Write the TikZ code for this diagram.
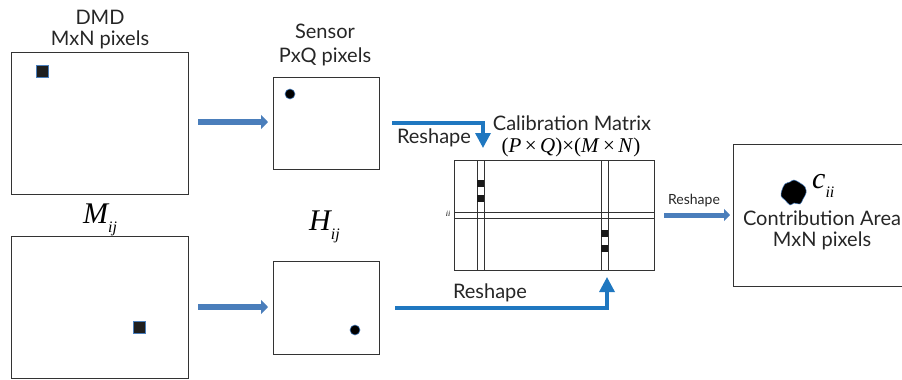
\documentclass[tikz,border=0pt]{standalone}
\usepackage{fontspec}
\setmainfont{Lato}
\newfontfamily\timesit{Liberation Serif}[ItalicFont={Liberation Serif Italic}]
\usetikzlibrary{arrows.meta}
\definecolor{steel}{HTML}{4A7EBB}
\definecolor{rblue}{HTML}{1F77C0}
\definecolor{frame}{HTML}{333333}
\begin{document}
\begin{tikzpicture}[x=1pt,y=-1pt,
  boxframe/.style={draw=frame,line width=1pt},
  pixsq/.style={fill=black!88,draw=steel,line width=0.5pt},
  bigarrow/.style={draw=steel,line width=6pt,-{Triangle[length=7pt,width=14pt]}},
  resharrow/.style={draw=rblue,line width=3.3pt,-{Triangle[length=15pt,width=15pt]}},
  lbl/.style={font=\fontsize{20}{22}\selectfont,inner sep=0pt,text=black!85},
  mlbl/.style={font=\fontsize{30}{30}\selectfont\timesit\itshape,inner sep=0pt},
  thin/.style={draw=frame,line width=1pt}]
\useasboundingbox (0,0) rectangle (902,380);
\begin{scope}
\clip (0,0) rectangle (902,380);
% DMD boxes
\node[boxframe,minimum width=177pt,minimum height=142pt,anchor=north west,inner sep=0pt] (dmd1) at (11,52) {};
\node[boxframe,minimum width=177pt,minimum height=142pt,anchor=north west,inner sep=0pt] (dmd2) at (11,236) {};
\node[pixsq,minimum size=12pt,inner sep=0pt,anchor=north west] (p1) at (36,65) {};
\node[pixsq,minimum size=12pt,inner sep=0pt,anchor=north west] (p2) at (133,321) {};
\node[lbl] (dmdt) at (100,17) {DMD};
\node[lbl] (dmdn) at (100,40) {MxN pixels};
\node[mlbl,anchor=base west] (mij) at (83,223) {M\raisebox{-0.3em}{\fontsize{16}{16}\selectfont ij}};
% sensor boxes
\node[boxframe,minimum width=106pt,minimum height=92pt,anchor=north west,inner sep=0pt] (s1) at (273,77) {};
\node[boxframe,minimum width=106pt,minimum height=93pt,anchor=north west,inner sep=0pt] (s2) at (273,261) {};
\fill[black,draw=steel,line width=0.6pt] (290,94) circle (5pt);
\fill[black,draw=steel,line width=0.6pt] (355,330) circle (5pt);
\node[lbl] (sen) at (325,31) {Sensor};
\node[lbl] (senn) at (325,57) {PxQ pixels};
\node[mlbl,anchor=base west] (hij) at (309,230) {H\raisebox{-0.3em}{\fontsize{16}{16}\selectfont ij}};
% arrows DMD -> sensor
\coordinate (a1s) at (198,122);
\coordinate (a1e) at (268,122);
\coordinate (a2s) at (198,307);
\coordinate (a2e) at (268,307);
\draw[bigarrow] (a1s) -- (a1e);
\draw[bigarrow] (a2s) -- (a2e);
% calibration matrix
\node[boxframe,minimum width=200pt,minimum height=110pt,anchor=north west,inner sep=0pt] (cm) at (454,160) {};
\draw[thin] (477,160) -- (477,270) (484,160) -- (484,270);
\draw[thin] (601,160) -- (601,270) (608,160) -- (608,270);
\draw[thin] (454,212) -- (654,212) (454,218) -- (654,218);
\fill[black!90] (477,180) rectangle (484,187);
\fill[black!90] (477,195) rectangle (484,202);
\fill[black!90] (601,230) rectangle (608,237);
\fill[black!90] (601,245) rectangle (608,252);
\node[font=\fontsize{8}{8}\selectfont\timesit\itshape,inner sep=0pt] (ii) at (448,214) {ii};
\node[lbl] (calt) at (572,123) {Calibration Matrix};
\node[font=\fontsize{21}{22}\selectfont\timesit,inner sep=0pt] (calm) at (571,147) {(\textit{P}\,×\,\textit{Q})×(\textit{M}\,×\,\textit{N})};
% reshape arrows
\coordinate (r1s) at (392,123);
\coordinate (r1c) at (483,123);
\coordinate (r1e) at (483,148);
\draw[resharrow] (r1s) -- (r1c) -- (r1e);
\node[lbl] (r1l) at (434,138) {Reshape};
\coordinate (r2s) at (395,308);
\coordinate (r2c) at (607,308);
\coordinate (r2e) at (607,277);
\draw[resharrow] (r2s) -- (r2c) -- (r2e);
\node[lbl] (r2l) at (490,293) {Reshape};
% right box
\node[boxframe,minimum width=200pt,minimum height=142pt,anchor=north west,inner sep=0pt] (ca) at (733,144) {};
\coordinate (r3s) at (664,215);
\coordinate (r3e) at (730,215);
\draw[draw=steel,line width=5pt,-{Triangle[length=6pt,width=12pt]}] (r3s) -- (r3e);
\node[font=\fontsize{14}{15}\selectfont,inner sep=0pt,text=black!85] (r3l) at (694,201) {Reshape};
\fill[black,draw=steel,line width=0.5pt] plot[smooth cycle,tension=0.6] coordinates {(782,190) (785,184) (790,182) (794,180) (800,183) (805,187) (806,193) (803,199) (800,204) (794,203) (790,205) (785,200) (781,196)};
\node[font=\fontsize{30}{30}\selectfont\timesit\itshape,inner sep=0pt,anchor=base west] (cii) at (812,188) {c\raisebox{-0.3em}{\fontsize{16}{16}\selectfont ii}};
\node[lbl] (cat) at (822,218) {Contribution Area};
\node[lbl] (can) at (822,241) {MxN pixels};
\end{scope}
\end{tikzpicture}
\end{document}
